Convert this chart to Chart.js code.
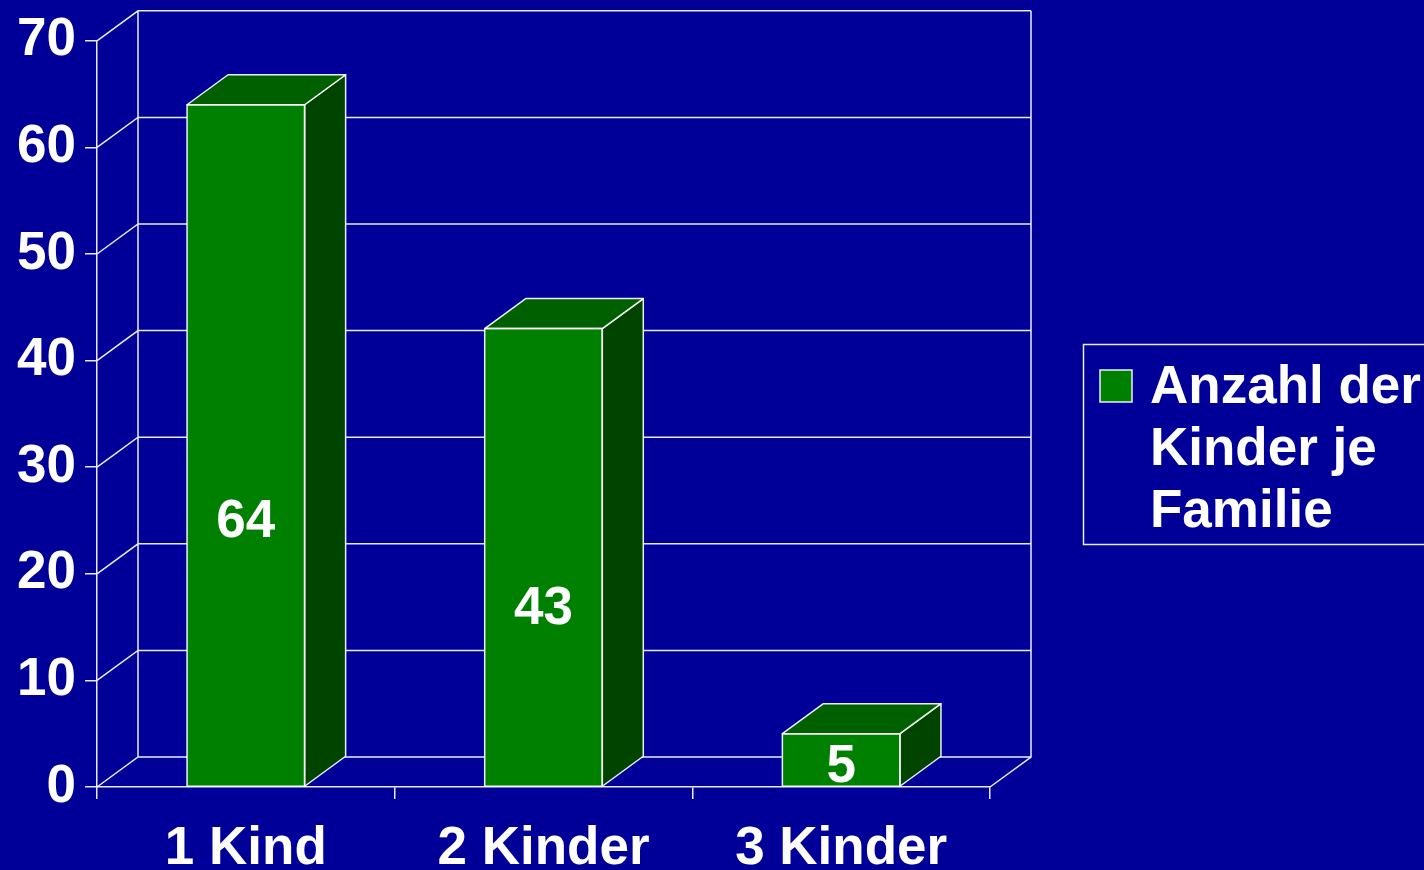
<!DOCTYPE html>
<html>
<head>
<meta charset="utf-8">
<script src="https://cdn.jsdelivr.net/npm/chart.js@4/dist/chart.umd.min.js"></script>
<style>
  html, body { margin: 0; padding: 0; background: #000099; overflow: hidden; }
  #wrap { width: 1424px; height: 870px; }
</style>
</head>
<body>
<div id="wrap"><canvas id="chart" width="1424" height="870"></canvas></div>
<script>
// data
const categories = ['1 Kind', '2 Kinder', '3 Kinder'];
const childCounts = [64, 43, 5];
const legendLines = ['Anzahl der', 'Kinder je', 'Familie'];
const yTicks = [0, 10, 20, 30, 40, 50, 60, 70];

const FONT = "'Liberation Sans', Arial, sans-serif";
const LINE = 'rgba(255,255,255,0.92)';
const DEPTH_X = 41, DEPTH_Y = -30; // 3d offset of the back wall

// back wall, side wall and floor
const wallPlugin = {
  id: 'wall3d',
  beforeDatasetsDraw(chart) {
    const { ctx, chartArea: a, scales: { y } } = chart;
    ctx.save();
    ctx.strokeStyle = LINE;
    ctx.lineWidth = 1.5;
    ctx.beginPath();
    yTicks.forEach(v => {
      const py = y.getPixelForValue(v);
      ctx.moveTo(a.left, py);
      ctx.lineTo(a.left + DEPTH_X, py + DEPTH_Y);
      ctx.lineTo(a.right + DEPTH_X, py + DEPTH_Y);
    });
    ctx.moveTo(a.left + DEPTH_X, a.top + DEPTH_Y);
    ctx.lineTo(a.left + DEPTH_X, a.bottom + DEPTH_Y);
    ctx.moveTo(a.right + DEPTH_X, a.top + DEPTH_Y);
    ctx.lineTo(a.right + DEPTH_X, a.bottom + DEPTH_Y);
    ctx.lineTo(a.right, a.bottom);
    ctx.stroke();
    ctx.restore();
  },
  afterDatasetsDraw(chart) {
    const { ctx, scales: { y } } = chart;
    const meta = chart.getDatasetMeta(0);
    ctx.save();
    ctx.strokeStyle = LINE;
    ctx.lineWidth = 1.5;
    ctx.lineJoin = 'round';
    meta.data.forEach((bar, i) => {
      const { x, y: top, base, width } = bar.getProps(['x', 'y', 'base', 'width'], true);
      const l = x - width / 2, r = x + width / 2;
      // side
      ctx.beginPath();
      ctx.moveTo(r, top);
      ctx.lineTo(r + DEPTH_X, top + DEPTH_Y);
      ctx.lineTo(r + DEPTH_X, base + DEPTH_Y);
      ctx.lineTo(r, base);
      ctx.closePath();
      ctx.fillStyle = '#004400';
      ctx.fill();
      ctx.stroke();
      // top
      ctx.beginPath();
      ctx.moveTo(l, top);
      ctx.lineTo(l + DEPTH_X, top + DEPTH_Y);
      ctx.lineTo(r + DEPTH_X, top + DEPTH_Y);
      ctx.lineTo(r, top);
      ctx.closePath();
      ctx.fillStyle = '#006000';
      ctx.fill();
      ctx.stroke();
      // front outline
      ctx.strokeRect(l, top, width, base - top);
      // value label
      const v = childCounts[i];
      ctx.fillStyle = '#ffffff';
      ctx.font = 'bold 53px ' + FONT;
      ctx.textAlign = 'center';
      ctx.textBaseline = 'middle';
      ctx.fillText(String(v), x, y.getPixelForValue(v * 0.39) + 1);
    });
    ctx.restore();
  },
  afterDraw(chart) {
    // legend box on the right, as in the slide
    const { ctx, chartArea: a } = chart;
    const bx = a.right + 93, by = 344;
    ctx.save();
    ctx.strokeStyle = LINE;
    ctx.lineWidth = 1.5;
    ctx.strokeRect(bx + 0.5, by + 0.5, 420, 200);
    ctx.fillStyle = '#008000';
    ctx.fillRect(bx + 17, by + 26, 32, 32);
    ctx.strokeRect(bx + 17, by + 26, 32, 32);
    ctx.fillStyle = '#ffffff';
    ctx.font = 'bold 53px ' + FONT;
    ctx.textAlign = 'left';
    ctx.textBaseline = 'alphabetic';
    legendLines.forEach((t, i) => ctx.fillText(t, bx + 67, by + 59 + i * 62));
    ctx.restore();
  }
};

const canvas = document.getElementById('chart');
canvas.getContext('2d').letterSpacing = '1px';

new Chart(canvas, {
  type: 'bar',
  data: {
    labels: categories,
    datasets: [{
      label: legendLines.join(' '),
      data: childCounts,
      backgroundColor: '#008000',
      borderWidth: 0,
      categoryPercentage: 1,
      barPercentage: 0.395
    }]
  },
  options: {
    responsive: false,
    animation: false,
    layout: { padding: { top: 38, right: 434, left: 0, bottom: 0 } },
    plugins: { legend: { display: false }, tooltip: { enabled: false } },
    scales: {
      x: {
        offset: true,
        grid: { offset: true, drawOnChartArea: false, drawTicks: true, tickLength: 12, color: LINE, lineWidth: 1.5 },
        border: { color: LINE, width: 1.5 },
        ticks: { color: '#ffffff', font: { family: FONT, size: 53, weight: 'bold' }, padding: 19, maxRotation: 0 },
        afterFit(s) { s.height = 83; }
      },
      y: {
        min: 0,
        max: 70,
        afterBuildTicks(s) { s.ticks = yTicks.map(v => ({ value: v })); },
        grid: { drawOnChartArea: false, drawTicks: true, tickLength: 12, color: LINE, lineWidth: 1.5 },
        border: { color: LINE, width: 1.5 },
        ticks: { color: '#ffffff', font: { family: FONT, size: 53, weight: 'bold' }, padding: 9 },
        afterFit(s) { s.width = 97; }
      }
    }
  },
  plugins: [wallPlugin]
});
</script>
</body>
</html>
